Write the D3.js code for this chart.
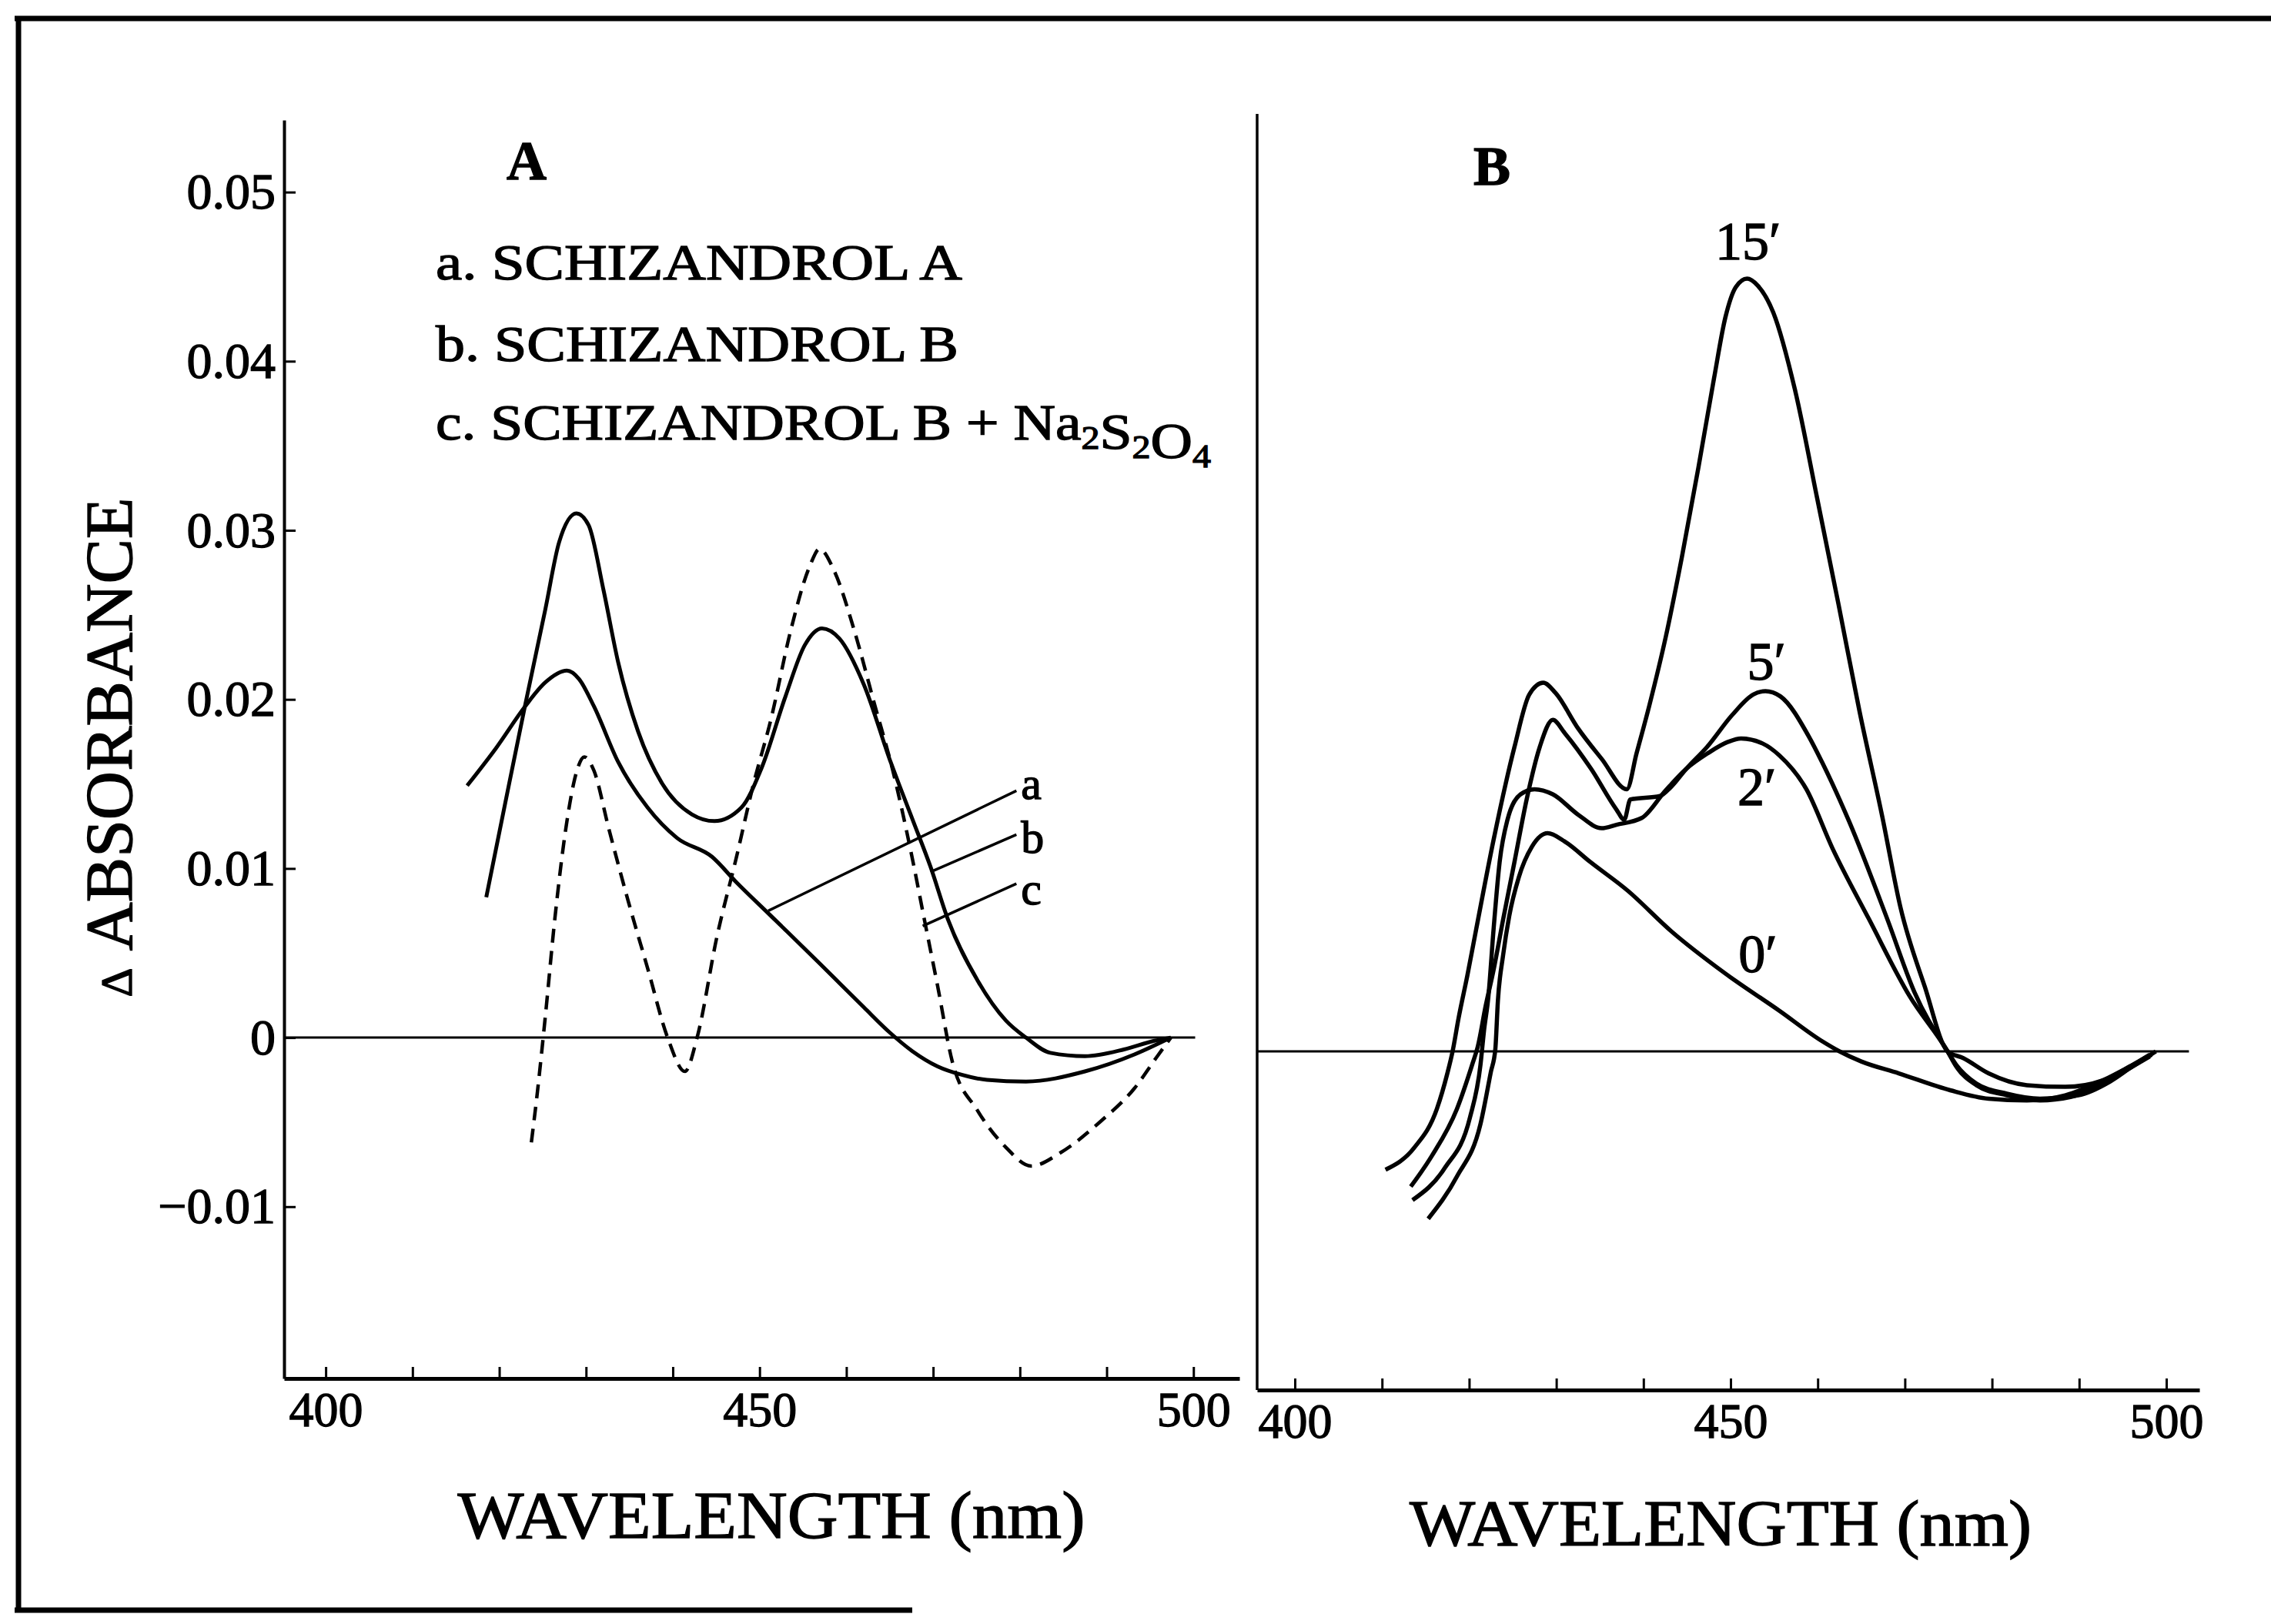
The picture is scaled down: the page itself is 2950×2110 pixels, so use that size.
<!DOCTYPE html>
<html>
<head>
<meta charset="utf-8">
<script src="https://cdn.jsdelivr.net/npm/d3@7"></script>
<style>
  body { margin: 0; background: #fff; }
  text { font-family: "Liberation Serif", "Times New Roman", serif; fill: #000; stroke: #000; stroke-width: 1.3px; }
</style>
</head>
<body>
<div id="chart"></div>
<script>
// ---------- data (wavelength nm, delta absorbance) ----------
const xTicks = [400, 410, 420, 430, 440, 450, 460, 470, 480, 490, 500];
const xTickLabels = ["400", "", "", "", "", "450", "", "", "", "", "500"];
const yTicks = [-0.01, 0, 0.01, 0.02, 0.03, 0.04, 0.05];
const yTickLabels = ["\u22120.01", "0", "0.01", "0.02", "0.03", "0.04", "0.05"];

const keysA = ["a", "b", "c"];
const namesA = ["SCHIZANDROL A", "SCHIZANDROL B", "SCHIZANDROL B + Na2S2O4"];

// panel A
const schizandrolA = [[416.3,0.0149],[419.6,0.0171],[423.0,0.0196],[425.3,0.0210],[427.8,0.0217],[429.2,0.0212],[430.9,0.0196],[433.7,0.0163],[437.1,0.0136],[440.5,0.0118],[444.5,0.0107],[447.3,0.0092],[451.3,0.0072],[456.9,0.0044],[462.0,0.0018],[465.0,0.0003],[467.6,-0.0008],[470.5,-0.0017],[473.3,-0.0022],[476.2,-0.0025],[480.7,-0.0026],[487.5,-0.0020],[493.2,-0.0010],[497.4,0.0000]];
const schizandrolB = [[418.5,0.0083],[420.7,0.0139],[423.0,0.0197],[425.3,0.0253],[426.9,0.0293],[428.9,0.0310],[430.3,0.0303],[432.0,0.0265],[433.7,0.0222],[436.0,0.0181],[438.8,0.0150],[442.2,0.0132],[444.8,0.0128],[447.9,0.0136],[450.2,0.0159],[453.0,0.0202],[455.2,0.0232],[457.2,0.0242],[459.2,0.0236],[462.0,0.0209],[465.1,0.0163],[467.7,0.0128],[469.7,0.0101],[471.7,0.0070],[475.1,0.0034],[478.4,0.0010],[480.7,0.0000],[483.5,-0.0009],[487.5,-0.0011],[492.0,-0.0007],[495.4,-0.0002],[497.4,0.0000]];
const schizandrolBNa = [[423.7,-0.0062],[424.4,-0.0032],[425.3,0.0012],[426.4,0.0070],[427.8,0.0128],[428.9,0.0157],[429.8,0.0166],[430.9,0.0158],[432.6,0.0124],[434.9,0.0080],[437.1,0.0041],[439.4,0.0000],[441.4,-0.0020],[442.8,0.0000],[445.1,0.0060],[447.3,0.0106],[449.3,0.0150],[451.3,0.0188],[453.6,0.0241],[455.8,0.0279],[456.9,0.0289],[458.6,0.0276],[460.9,0.0241],[463.2,0.0198],[465.4,0.0157],[467.4,0.0111],[469.1,0.0067],[470.5,0.0031],[472.2,-0.0014],[475.1,-0.0043],[478.4,-0.0065],[481.3,-0.0076],[484.7,-0.0068],[489.2,-0.0050],[493.2,-0.0030],[495.7,-0.0012],[497.4,0.0000]];

// leader lines for a, b, c: [start on curve, end at letter]
const leadersA = [[[451.0,0.0075],[479.6,0.0146]], [[469.7,0.0098],[479.6,0.0120]], [[468.8,0.0066],[479.6,0.0091]]];

// panel B, time in minutes
const timesB = ["15\u2032", "5\u2032", "2\u2032", "0\u2032"];
const min15 = [[410.4,-0.0070],[413.7,-0.0057],[416.3,-0.0034],[417.5,-0.0013],[418.1,0.0000],[418.8,0.0020],[419.8,0.0045],[420.8,0.0072],[422.8,0.0125],[425.2,0.0180],[426.9,0.0211],[428.5,0.0218],[429.9,0.0212],[432.5,0.0191],[435.2,0.0173],[438.1,0.0155],[439.2,0.0176],[440.7,0.0205],[442.6,0.0246],[444.4,0.0292],[446.3,0.0345],[448.1,0.0398],[449.4,0.0434],[450.6,0.0452],[451.9,0.0457],[453.1,0.0453],[454.9,0.0437],[457.4,0.0391],[459.9,0.0328],[462.4,0.0264],[464.8,0.0201],[467.4,0.0139],[469.5,0.0085],[472.3,0.0038],[474.9,0.0000],[476.7,-0.0004],[479.6,-0.0013],[484.0,-0.0020],[488.4,-0.0021],[492.8,-0.0017],[495.8,-0.0009],[498.1,-0.0002]];
const min5 = [[413.3,-0.0080],[415.7,-0.0062],[418.6,-0.0034],[420.4,-0.0007],[421.0,0.0003],[421.9,0.0027],[422.8,0.0048],[423.9,0.0078],[425.2,0.0112],[426.6,0.0149],[428.1,0.0180],[429.6,0.0196],[431.0,0.0188],[434.0,0.0167],[436.9,0.0143],[437.8,0.0137],[438.5,0.0149],[441.9,0.0151],[443.1,0.0156],[444.9,0.0167],[447.3,0.0180],[450.2,0.0199],[452.6,0.0211],[454.0,0.0213],[455.7,0.0210],[459.0,0.0186],[460.5,0.0171],[463.6,0.0136],[468.0,0.0078],[471.1,0.0035],[474.9,0.0000],[475.9,-0.0008],[478.2,-0.0019],[481.7,-0.0025],[485.5,-0.0028],[489.9,-0.0026],[493.5,-0.0018],[496.1,-0.0009],[498.3,-0.0002]];
const min2 = [[413.5,-0.0088],[417.2,-0.0069],[420.1,-0.0039],[421.3,-0.0008],[421.7,0.0012],[422.2,0.0032],[422.8,0.0072],[423.5,0.0112],[424.4,0.0137],[425.9,0.0152],[427.5,0.0155],[429.6,0.0152],[432.5,0.0140],[435.2,0.0132],[436.9,0.0134],[439.8,0.0138],[442.5,0.0154],[444.9,0.0167],[447.3,0.0176],[449.7,0.0183],[451.2,0.0185],[453.7,0.0182],[455.6,0.0175],[458.7,0.0155],[461.7,0.0120],[465.9,0.0078],[470.5,0.0033],[474.9,0.0000],[475.9,-0.0009],[478.2,-0.0020],[481.7,-0.0026],[485.5,-0.0029],[489.0,-0.0027],[492.8,-0.0019],[495.8,-0.0010],[498.1,-0.0003]];
const min0 = [[415.3,-0.0099],[418.6,-0.0074],[421.3,-0.0043],[422.5,-0.0012],[423.0,0.0001],[423.3,0.0030],[423.9,0.0057],[424.6,0.0080],[425.7,0.0103],[427.2,0.0121],[429.0,0.0129],[431.0,0.0124],[433.9,0.0112],[438.2,0.0095],[443.2,0.0071],[449.4,0.0046],[455.6,0.0024],[460.5,0.0006],[462.5,0.0000],[465.0,-0.0006],[469.3,-0.0013],[475.2,-0.0023],[479.6,-0.0028],[484.0,-0.0029],[488.4,-0.0026],[492.8,-0.0017],[495.8,-0.0009],[497.9,-0.0003],[498.8,0.0000]];

// ---------- svg ----------
const W = 2950, H = 2110;
const svg = d3.select("#chart").append("svg")
    .attr("width", W).attr("height", H);
svg.append("rect").attr("width", W).attr("height", H).attr("fill", "#fff");

// outer frame (open on the right, short at the bottom)
const frame = svg.append("g").attr("stroke", "#000").attr("stroke-width", 7).attr("fill", "none");
frame.append("path").attr("d", "M19,24 H2950");
frame.append("path").attr("d", "M24,21 V2094");
frame.append("path").attr("d", "M19,2092 H1185");

// scales
const xA = d3.scaleLinear().domain([395.2, 505.3]).range([369, 1610]);
const yA = d3.scaleLinear().domain([-0.02016, 0.05426]).range([1791, 156]);
const xB = d3.scaleLinear().domain([395.67, 503.8]).range([1633, 2857]);
const yB = d3.scaleLinear().domain([-0.02003, 0.05544]).range([1806, 148]);

function styleAxis(g, w, fs) {
    g.select(".domain").attr("stroke-width", w);
    g.selectAll(".tick line").attr("stroke-width", 3);
    g.selectAll(".tick text").style("font-size", fs + "px")
        .style("font-family", "'Liberation Serif', serif");
}

//////////
// PANEL A
//////////
const gxA = svg.append("g").attr("transform", "translate(0,1791)")
    .call(d3.axisBottom(xA).tickValues(xTicks).tickSizeInner(-15).tickSizeOuter(0)
        .tickPadding(17).tickFormat((d, i) => xTickLabels[i]));
styleAxis(gxA, 5, 64);

const gyA = svg.append("g").attr("transform", "translate(369,0)")
    .call(d3.axisLeft(yA).tickValues(yTicks).tickSizeInner(-15).tickSizeOuter(0)
        .tickPadding(11).tickFormat((d, i) => yTickLabels[i]));
styleAxis(gyA, 4, 66);

const lineA = d3.line().x(d => xA(d[0])).y(d => yA(d[1])).curve(d3.curveMonotoneX);

svg.append("path").attr("d", lineA([[395.2, 0], [500.2, 0]]))
    .attr("stroke", "#000").attr("stroke-width", 3).attr("fill", "none");

const seriesA = [schizandrolA, schizandrolB, schizandrolBNa];
svg.append("g").selectAll("path").data(seriesA).join("path")
    .attr("d", lineA)
    .attr("fill", "none").attr("stroke", "#000")
    .attr("stroke-width", (d, i) => i === 2 ? 4.5 : 5)
    .attr("stroke-dasharray", (d, i) => i === 2 ? "18,11" : null)
    .attr("stroke-linejoin", "round");

// leader lines and their letters
svg.append("g").selectAll("path").data(leadersA).join("path")
    .attr("d", d => d3.line().x(p => xA(p[0])).y(p => yA(p[1]))(d))
    .attr("stroke", "#000").attr("stroke-width", 3.5);
const letterDy = [11, 24, 27];
svg.append("g").selectAll("text").data(leadersA).join("text")
    .attr("x", d => xA(d[1][0]) + 6)
    .attr("y", (d, i) => yA(d[1][1]) + letterDy[i])
    .style("font-size", "60px")
    .text((d, i) => keysA[i]);

// legend
const legendY = [363, 469, 571];
const legendLen = [684, 679, 1007];
namesA.forEach(function (name, i) {
    const t = svg.append("text")
        .attr("x", 566).attr("y", legendY[i])
        .attr("textLength", legendLen[i]).attr("lengthAdjust", "spacingAndGlyphs")
        .style("font-size", "66px");
    t.append("tspan").text(keysA[i] + ". ");
    name.split(/(\d)/).forEach(function (part) {
        if (part === "") return;
        if (/\d/.test(part)) {
            t.append("tspan").attr("dy", 12).style("font-size", "42px").text(part);
            t.append("tspan").attr("dy", -12).text("");
        } else {
            t.append("tspan").text(part);
        }
    });
});

svg.append("text").attr("x", 684).attr("y", 233).attr("text-anchor", "middle")
    .style("font-size", "72px").style("font-weight", "bold").text("A");

svg.append("text").attr("x", 1002).attr("y", 1998).attr("text-anchor", "middle")
    .attr("textLength", 815).attr("lengthAdjust", "spacingAndGlyphs")
    .style("font-size", "86px").text("WAVELENGTH (nm)");

// y label
const yl = svg.append("text").attr("transform", "translate(171,971) rotate(-90)")
    .attr("text-anchor", "middle")
    .attr("textLength", 649).attr("lengthAdjust", "spacingAndGlyphs")
    .style("font-size", "86px");
yl.append("tspan").style("font-size", "58px").text("\u0394");
yl.append("tspan").text(" ABSORBANCE");

//////////
// PANEL B
//////////
const gxB = svg.append("g").attr("transform", "translate(0,1806)")
    .call(d3.axisBottom(xB).tickValues(xTicks).tickSizeInner(-15).tickSizeOuter(0)
        .tickPadding(17).tickFormat((d, i) => xTickLabels[i]));
styleAxis(gxB, 5, 64);

svg.append("path").attr("d", `M1633,${yB.range()[1]} V${yB.range()[0]}`)
    .attr("stroke", "#000").attr("stroke-width", 3.5);

const lineB = d3.line().x(d => xB(d[0])).y(d => yB(d[1])).curve(d3.curveMonotoneX);

svg.append("path").attr("d", lineB([[395.67, 0], [502.6, 0]]))
    .attr("stroke", "#000").attr("stroke-width", 3).attr("fill", "none");

const seriesB = [min15, min5, min2, min0];
svg.append("g").selectAll("path").data(seriesB).join("path")
    .attr("d", lineB)
    .attr("fill", "none").attr("stroke", "#000").attr("stroke-width", 5.5)
    .attr("stroke-linejoin", "round");

// time labels beside each curve
const timeAnchor = [[452.0, 0.04684, "middle"], [451.9, 0.02199, "start"], [450.8, 0.01457, "start"], [450.9, 0.00469, "start"]];
svg.append("g").selectAll("text").data(timesB).join("text")
    .attr("x", (d, i) => xB(timeAnchor[i][0]))
    .attr("y", (d, i) => yB(timeAnchor[i][1]))
    .attr("text-anchor", (d, i) => timeAnchor[i][2])
    .style("font-size", "70px")
    .text(d => d);

svg.append("text").attr("x", 1938).attr("y", 240).attr("text-anchor", "middle")
    .style("font-size", "72px").style("font-weight", "bold").text("B");

svg.append("text").attr("x", 2235).attr("y", 2008).attr("text-anchor", "middle")
    .attr("textLength", 808).attr("lengthAdjust", "spacingAndGlyphs")
    .style("font-size", "84px").text("WAVELENGTH (nm)");
</script>
</body>
</html>
